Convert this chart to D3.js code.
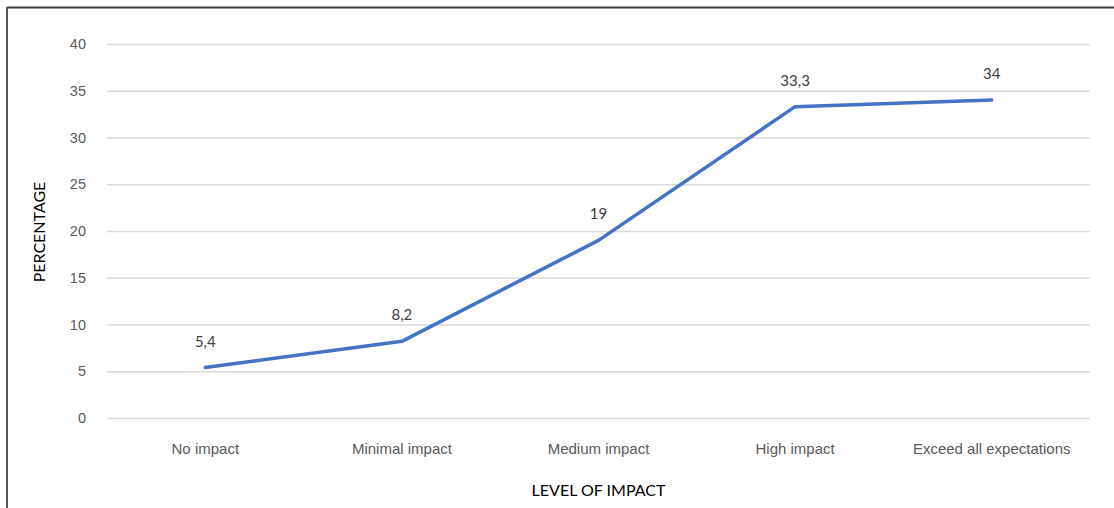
<!DOCTYPE html>
<html>
<head>
<meta charset="utf-8">
<script src="https://cdn.jsdelivr.net/npm/d3@7"></script>
<style>
  html, body { margin: 0; padding: 0; background: #fff; }
  svg { display: block; font-family: Lato, "Open Sans", "Liberation Sans", sans-serif; }
</style>
</head>
<body>
<svg id="chart" width="1114" height="508"></svg>
<script>
// Share of respondents by perceived level of impact
const categories = ["No impact", "Minimal impact", "Medium impact", "High impact", "Exceed all expectations"];
const values = [5.4, 8.2, 19, 33.3, 34];
const valueLabels = ["5,4", "8,2", "19", "33,3", "34"];
const yTicks = [0, 5, 10, 15, 20, 25, 30, 35, 40];

const svg = d3.select("#chart");
const W = 1114, H = 508;
const plot = { left: 107, right: 1090, top: 44, bottom: 418 };

// frame
svg.append("line").attr("x1", 7).attr("x2", W).attr("y1", 7.5).attr("y2", 7.5)
  .attr("stroke", "#404040").attr("stroke-width", 2);
svg.append("line").attr("x1", 7).attr("x2", 7).attr("y1", 7).attr("y2", H)
  .attr("stroke", "#595959").attr("stroke-width", 2);

const x = d3.scaleBand().domain(categories).range([plot.left, plot.right]);
const y = d3.scaleLinear().domain([0, 40]).range([plot.bottom, plot.top]);

// horizontal gridlines + tick labels
const yAxis = d3.axisLeft(y).tickValues(yTicks).tickSize(-(plot.right - plot.left)).tickPadding(21);
const gy = svg.append("g").attr("transform", `translate(${plot.left},0)`).call(yAxis);
gy.select(".domain").remove();
gy.selectAll(".tick line").attr("stroke", "#d9d9d9").attr("stroke-width", 1.3);
gy.selectAll(".tick text").attr("fill", "#595959").attr("font-size", 14.5);

// category labels
const xAxis = d3.axisBottom(x).tickSize(0).tickPadding(25);
const gx = svg.append("g").attr("transform", `translate(0,${plot.bottom})`).call(xAxis);
gx.select(".domain").remove();
gx.selectAll(".tick text").attr("fill", "#595959").attr("font-size", 15);

const cx = d => x(d) + x.bandwidth() / 2;

// series line
const line = d3.line().x((d, i) => cx(categories[i])).y(d => y(d));
svg.append("path").datum(values)
  .attr("d", line)
  .attr("fill", "none")
  .attr("stroke", "#4472c4")
  .attr("stroke-width", 3.5)
  .attr("stroke-linejoin", "round")
  .attr("stroke-linecap", "round");

// data labels
svg.append("g").selectAll("text").data(values).join("text")
  .attr("x", (d, i) => cx(categories[i]))
  .attr("y", d => y(d) - 21)
  .attr("text-anchor", "middle")
  .attr("fill", "#404040")
  .attr("font-size", 15)
  .text((d, i) => valueLabels[i]);

// axis titles
svg.append("text")
  .attr("transform", `translate(45,${(plot.top + plot.bottom) / 2 + 1}) rotate(-90)`)
  .attr("text-anchor", "middle")
  .attr("fill", "#000")
  .attr("font-size", 16)
  .text("PERCENTAGE");

svg.append("text")
  .attr("x", cx(categories[2]))
  .attr("y", 496)
  .attr("text-anchor", "middle")
  .attr("fill", "#000")
  .attr("font-size", 16)
  .text("LEVEL OF IMPACT");
</script>
</body>
</html>
